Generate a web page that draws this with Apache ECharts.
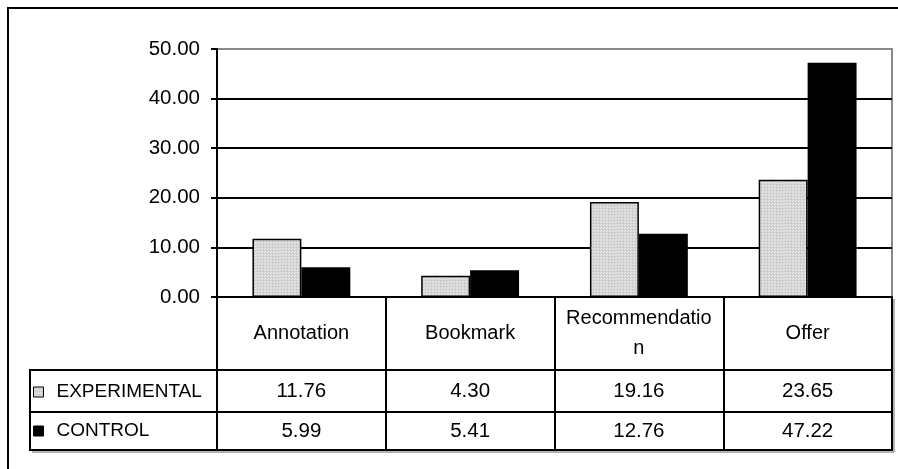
<!DOCTYPE html>
<html>
<head>
<meta charset="utf-8">
<script src="https://cdn.jsdelivr.net/npm/echarts@6/dist/echarts.min.js"></script>
<style>
  html, body { margin: 0; padding: 0; background: #fff; }
  #chart { width: 898px; height: 469px; }
</style>
</head>
<body>
<div id="chart"></div>
<script>
// ---- data ----
const categories = ['Annotation', 'Bookmark', 'Recommendation', 'Offer'];
const seriesNames = ['EXPERIMENTAL', 'CONTROL'];
const experimental = [11.76, 4.30, 19.16, 23.65];
const control = [5.99, 5.41, 12.76, 47.22];
const yTicks = [0, 10, 20, 30, 40, 50];

// ---- styling / layout ----
const FONT = '"Liberation Sans", Arial, sans-serif';
const PLOT_L = 217, PLOT_R = 892, PLOT_T = 49, PLOT_B = 297;
const ROW1_B = 370, ROW2_B = 412, ROW3_B = 450, TABLE_L = 30;

// light grey dotted fill used for the EXPERIMENTAL series
function dottedFill() {
  const c = document.createElement('canvas');
  c.width = 3; c.height = 3;
  const g = c.getContext('2d');
  g.fillStyle = '#d2d2d2';
  g.fillRect(0, 0, 3, 3);
  g.fillStyle = '#eeeeee';
  g.fillRect(0, 0, 1, 1);
  g.fillRect(1, 2, 1, 1);
  g.fillStyle = '#c4c4c4';
  g.fillRect(2, 1, 1, 1);
  return c;
}
const expFill = { image: dottedFill(), repeat: 'repeat' };

const chart = echarts.init(document.getElementById('chart'), null, { renderer: 'canvas' });

const option = {
  animation: false,
  backgroundColor: '#fff',
  textStyle: { fontFamily: FONT, color: '#000' },
  grid: {
    left: PLOT_L, right: 898 - PLOT_R, top: PLOT_T, bottom: 469 - PLOT_B,
    show: true, borderColor: '#8a8a8a', borderWidth: 2, backgroundColor: 'transparent'
  },
  legend: {
    orient: 'vertical',
    left: 28, top: 377,
    itemWidth: 10, itemHeight: 10, itemGap: 19,
    icon: 'rect',
    selectedMode: false,
    data: seriesNames,
    itemStyle: { borderColor: '#000', borderWidth: 1 },
    textStyle: { fontFamily: FONT, fontSize: 19, color: '#000', lineHeight: 20, padding: [0, 0, 0, 8] }
  },
  xAxis: {
    type: 'category',
    data: categories,
    axisLine: { show: true, lineStyle: { color: '#000', width: 2 } },
    axisTick: { show: true, inside: false, length: ROW3_B - PLOT_B, lineStyle: { color: '#000', width: 2 } },
    axisLabel: {
      fontFamily: FONT, fontSize: 20, color: '#000',
      margin: 36, verticalAlign: 'middle', lineHeight: 30,
      width: 152, overflow: 'breakAll', align: 'center', interval: 0
    },
    splitLine: { show: false }
  },
  yAxis: {
    type: 'value',
    min: yTicks[0], max: yTicks[yTicks.length - 1], interval: 10,
    axisLine: { show: true, lineStyle: { color: '#000', width: 2 } },
    axisTick: { show: true, inside: false, length: 6, lineStyle: { color: '#000', width: 2 } },
    axisLabel: {
      fontFamily: FONT, fontSize: 20.5, color: '#000', margin: 17,
      formatter: v => v.toFixed(2)
    },
    splitLine: {
      show: true,
      lineStyle: { color: ['#000', '#000', '#000', '#000', '#000', '#8a8a8a'], width: 2 }
    }
  },
  series: [
    {
      name: seriesNames[0], type: 'bar', data: experimental,
      barGap: '0%', barCategoryGap: '42%',
      itemStyle: { color: expFill, borderColor: '#000', borderWidth: 1.5 }
    },
    {
      name: seriesNames[1], type: 'bar', data: control,
      barGap: '0%', barCategoryGap: '42%',
      itemStyle: { color: '#000', borderColor: '#000', borderWidth: 1.5 }
    }
  ]
};
chart.setOption(option);

// ---- data table beneath the plot ----
function tableGraphics() {
  const els = [];
  const line = (x1, y1, x2, y2, color, w) => els.push({
    type: 'line', silent: true,
    shape: { x1, y1, x2, y2 },
    style: { stroke: color, lineWidth: w }
  });
  // soft shadow on the right/bottom edges of the table
  line(PLOT_R + 2, PLOT_B + 2, PLOT_R + 2, ROW3_B + 2, '#9a9a9a', 1.5);
  line(TABLE_L + 2, ROW3_B + 2, PLOT_R + 2, ROW3_B + 2, '#9a9a9a', 1.5);
  // row rules
  line(TABLE_L, ROW1_B, PLOT_R, ROW1_B, '#000', 2);
  line(TABLE_L, ROW2_B, PLOT_R, ROW2_B, '#000', 2);
  line(TABLE_L - 1, ROW3_B, PLOT_R + 1, ROW3_B, '#000', 2);
  line(TABLE_L, ROW1_B - 1, TABLE_L, ROW3_B + 1, '#000', 2);

  const rows = [experimental, control];
  const rowCentres = [(ROW1_B + ROW2_B) / 2, (ROW2_B + ROW3_B) / 2];
  rows.forEach((vals, r) => {
    vals.forEach((v, i) => {
      const x = chart.convertToPixel({ xAxisIndex: 0 }, categories[i]);
      els.push({
        type: 'text', silent: true,
        x: x, y: rowCentres[r],
        style: {
          text: v.toFixed(2), fill: '#000',
          font: '20.5px ' + FONT, align: 'center', verticalAlign: 'middle'
        }
      });
    });
  });

  // outer chart-area frame
  els.push({
    type: 'rect', silent: true,
    shape: { x: 8, y: 8, width: 1000, height: 1000 },
    style: { fill: 'none', stroke: '#000', lineWidth: 2 }
  });
  return els;
}
chart.setOption({ graphic: { elements: tableGraphics() } });
</script>
</body>
</html>
